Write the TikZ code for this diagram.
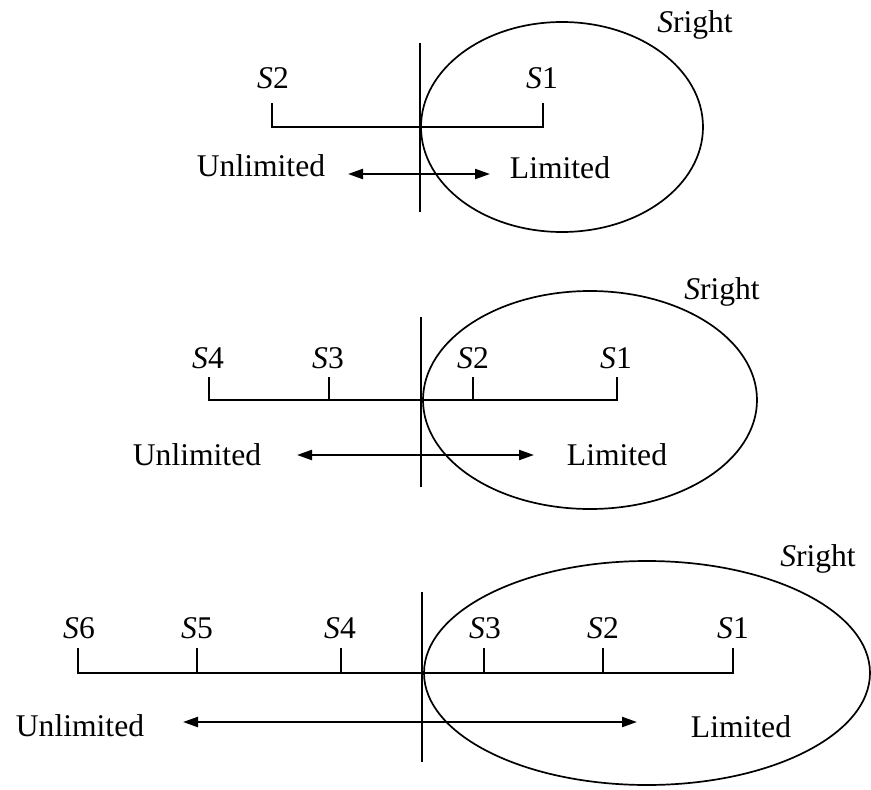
\documentclass[tikz,border=0pt]{standalone}
\usepackage{fontspec}
\setmainfont{Liberation Serif}
\usetikzlibrary{arrows.meta}
\tikzset{
  lbl/.style={anchor=base, inner sep=0pt, font=\fontsize{31.6}{38}\selectfont},
  barline/.style={line width=2.3pt},
  divider/.style={line width=1.3pt},
  region/.style={line width=1.7pt},
  dir/.style={line width=2.2pt, {Triangle[length=15pt,width=10pt]}-{Triangle[length=15pt,width=10pt]}}
}
\begin{document}
\begin{tikzpicture}[x=1pt,y=-1pt]
\useasboundingbox (0,0) rectangle (871,790);
\fill[white] (0,0) rectangle (871,790);

% ---------- Panel 1 ----------
\coordinate (v1t) at (420,43); \coordinate (v1b) at (420,212);
\draw[divider] (v1t) -- (v1b);
\draw[region] (562,127) ellipse [x radius=141pt, y radius=105pt];
\node[lbl] (sr1) at (695,32) {\textit{S}right};
\coordinate (a1t2) at (272,103); \coordinate (a1b2) at (272,127);
\coordinate (a1t1) at (543,103); \coordinate (a1b1) at (543,127);
\draw[barline] (a1t2) -- (a1b2) -- (a1b1) -- (a1t1);
\node[lbl] (p1s2) at (273,88) {\textit{S}2};
\node[lbl] (p1s1) at (542,88) {\textit{S}1};
\node[lbl] (p1u) at (261,176) {Unlimited};
\node[lbl] (p1l) at (560,178) {Limited};
\coordinate (p1al) at (348,174); \coordinate (p1ar) at (490,174);
\draw[dir] (p1al) -- (p1ar);

% ---------- Panel 2 ----------
\coordinate (v2t) at (421,317); \coordinate (v2b) at (421,487);
\draw[divider] (v2t) -- (v2b);
\draw[region] (590,400) ellipse [x radius=167pt, y radius=109pt];
\node[lbl] (sr2) at (722,299) {\textit{S}right};
\coordinate (b2t4) at (209,377); \coordinate (b2b4) at (209,400);
\coordinate (b2t3) at (329,377); \coordinate (b2b3) at (329,400);
\coordinate (b2t2) at (473,377); \coordinate (b2b2) at (473,400);
\coordinate (b2t1) at (617,377); \coordinate (b2b1) at (617,400);
\draw[barline] (b2t4) -- (b2b4) -- (b2b1) -- (b2t1);
\draw[barline] (b2t3) -- (b2b3);
\draw[barline] (b2t2) -- (b2b2);
\node[lbl] (p2s4) at (208,368) {\textit{S}4};
\node[lbl] (p2s3) at (328,368) {\textit{S}3};
\node[lbl] (p2s2) at (473,368) {\textit{S}2};
\node[lbl] (p2s1) at (616,368) {\textit{S}1};
\node[lbl] (p2u) at (197,465) {Unlimited};
\node[lbl] (p2l) at (617,465) {Limited};
\coordinate (p2al) at (297,455); \coordinate (p2ar) at (534,455);
\draw[dir] (p2al) -- (p2ar);

% ---------- Panel 3 ----------
\coordinate (v3t) at (422,592); \coordinate (v3b) at (422,762);
\draw[divider] (v3t) -- (v3b);
\draw[region] (647,673) ellipse [x radius=223pt, y radius=112pt];
\node[lbl] (sr3) at (818,566) {\textit{S}right};
\coordinate (c3t6) at (78,648);  \coordinate (c3b6) at (78,673);
\coordinate (c3t5) at (197,648); \coordinate (c3b5) at (197,673);
\coordinate (c3t4) at (341,648); \coordinate (c3b4) at (341,673);
\coordinate (c3t3) at (484,648); \coordinate (c3b3) at (484,673);
\coordinate (c3t2) at (603,648); \coordinate (c3b2) at (603,673);
\coordinate (c3t1) at (733,648); \coordinate (c3b1) at (733,673);
\draw[barline] (c3t6) -- (c3b6) -- (c3b1) -- (c3t1);
\foreach \k in {5,4,3,2} { \draw[barline] (c3t\k) -- (c3b\k); }
\node[lbl] (p3s6) at (79,638)  {\textit{S}6};
\node[lbl] (p3s5) at (197,638) {\textit{S}5};
\node[lbl] (p3s4) at (340,638) {\textit{S}4};
\node[lbl] (p3s3) at (485,638) {\textit{S}3};
\node[lbl] (p3s2) at (603,638) {\textit{S}2};
\node[lbl] (p3s1) at (733,638) {\textit{S}1};
\node[lbl] (p3u) at (80,736) {Unlimited};
\node[lbl] (p3l) at (741,737) {Limited};
\coordinate (p3al) at (183,722); \coordinate (p3ar) at (637,722);
\draw[dir] (p3al) -- (p3ar);
\end{tikzpicture}
\end{document}
